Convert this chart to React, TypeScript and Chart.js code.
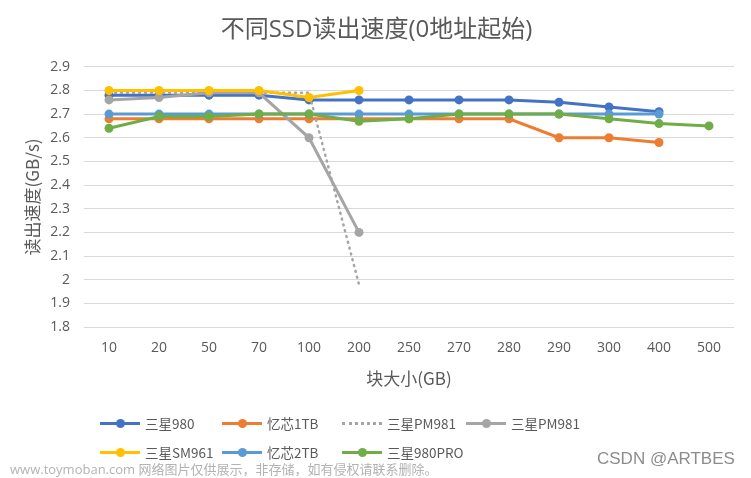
import React, { useEffect, useRef } from "react";
import { Chart, registerables } from "chart.js";

Chart.register(...registerables);

const categories = ["10", "20", "50", "70", "100", "200", "250", "270", "280", "290", "300", "400", "500"];
const seriesNames = ["三星980", "忆芯1TB", "三星PM981", "三星PM981", "三星SM961", "忆芯2TB", "三星980PRO"];
const seriesColors = ["#4472C4", "#ED7D31", "#A5A5A5", "#A5A5A5", "#FFC000", "#5B9BD5", "#70AD47"];
const samsung980 = [2.78, 2.78, 2.78, 2.78, 2.76, 2.76, 2.76, 2.76, 2.76, 2.75, 2.73, 2.71, null];
const yixin1TB = [2.68, 2.68, 2.68, 2.68, 2.68, 2.68, 2.68, 2.68, 2.68, 2.6, 2.6, 2.58, null];
const pm981Dotted = [2.79, 2.79, 2.79, 2.79, 2.79, 1.98, null, null, null, null, null, null, null];
const pm981 = [2.76, 2.77, 2.79, 2.79, 2.6, 2.2, null, null, null, null, null, null, null];
const sm961 = [2.8, 2.8, 2.8, 2.8, 2.77, 2.8, null, null, null, null, null, null, null];
const yixin2TB = [2.7, 2.7, 2.7, 2.7, 2.7, 2.7, 2.7, 2.7, 2.7, 2.7, 2.7, 2.7, null];
const samsung980Pro = [2.64, 2.69, 2.69, 2.7, 2.7, 2.67, 2.68, 2.7, 2.7, 2.7, 2.68, 2.66, 2.65];
const seriesValues = [samsung980, yixin1TB, pm981Dotted, pm981, sm961, yixin2TB, samsung980Pro];
const dottedIndex = 2;
const yMin = 1.8;
const yMax = 2.9;
const yStep = 0.1;

const titleText = "不同SSD读出速度(0地址起始)";
const yTitle = "读出速度(GB/s)";
const xTitle = "块大小(GB)";
const watermark = "www.toymoban.com 网络图片仅供展示，非存储，如有侵权请联系删除。";
const credit = "CSDN @ARTBES";

const FONT = '"Open Sans", "Noto Sans CJK SC", sans-serif';
const CJK_FONT = '"Noto Sans CJK SC", sans-serif';
const TEXT = "#595959";

export default function App() {
  const canvasRef = useRef<HTMLCanvasElement>(null);

  useEffect(() => {
    const ctx = canvasRef.current!;
    const datasets = seriesValues.map((vals, i) => {
      const dotted = i === dottedIndex;
      return {
        label: seriesNames[i],
        data: vals,
        borderColor: seriesColors[i],
        backgroundColor: seriesColors[i],
        borderWidth: dotted ? 2.5 : 3,
        borderDash: dotted ? [1, 5] : [],
        borderCapStyle: dotted ? "round" : "butt",
        pointRadius: dotted ? 0 : 4.5,
        pointHoverRadius: dotted ? 0 : 4.5,
        pointBorderWidth: 0,
        pointBackgroundColor: seriesColors[i],
        tension: 0,
        fill: false,
        order: seriesValues.length - i,
      } as any;
    });
    const chart = new Chart(ctx, {
      type: "line",
      data: { labels: categories, datasets },
      options: {
        animation: false,
        responsive: false,
        maintainAspectRatio: false,
        layout: { padding: { top: 10, left: 19, right: 17, bottom: 86 } },
        plugins: {
          legend: { display: false },
          tooltip: { enabled: false },
          title: {
            display: true,
            text: titleText,
            color: TEXT,
            font: { family: FONT, size: 24, weight: "normal" },
            padding: { top: 6, bottom: 22 },
          },
        },
        scales: {
          x: {
            offset: true,
            grid: { display: false, drawTicks: false },
            border: { display: false },
            afterFit: (s: any) => { s.height = 65; },
            ticks: { color: TEXT, font: { family: FONT, size: 14 }, padding: 13, maxRotation: 0, autoSkip: false },
            title: { display: true, text: xTitle, color: TEXT, font: { family: CJK_FONT, size: 17 }, padding: { top: 7, bottom: 3 } },
          },
          y: {
            min: yMin,
            max: yMax,
            grid: { color: "#D9D9D9", lineWidth: 1, drawTicks: false },
            border: { display: false },
            afterFit: (s: any) => { s.width = 65; },
            ticks: {
              stepSize: yStep,
              color: TEXT,
              font: { family: FONT, size: 14 },
              padding: 14,
              callback: (v: any) => String(Number(Number(v).toFixed(1))),
            },
            title: { display: true, text: yTitle, color: TEXT, font: { family: CJK_FONT, size: 17, lineHeight: 1.0 }, padding: { top: 5, bottom: 0 } },
          },
        },
      },
    });
    return () => chart.destroy();
  }, []);

  const colLeft = [100, 222, 342, 466];
  const rowTop = [423, 452];
  const legendItems = seriesNames.map((name, i) => ({
    name,
    color: seriesColors[i],
    dotted: i === dottedIndex,
    left: colLeft[i % 4],
    top: rowTop[Math.floor(i / 4)],
  }));

  return (
    <div style={{ position: "fixed", left: 0, top: 0, width: 751, height: 478, background: "#fff", overflow: "hidden" }}>
      <canvas ref={canvasRef} width={751} height={478} style={{ position: "absolute", left: 0, top: 0, width: 751, height: 478 }} />
      {legendItems.map((it, i) => (
        <div key={i} style={{ position: "absolute", left: it.left, top: it.top - 10, height: 20, display: "flex", alignItems: "center", fontFamily: CJK_FONT, fontSize: 13.5, color: TEXT, whiteSpace: "nowrap" }}>
          <div style={{ position: "relative", width: 40, height: 20 }}>
            {it.dotted ? (
              <div style={{ position: "absolute", left: 0, top: 9, width: 40, borderTop: `3px dotted ${it.color}` }} />
            ) : (
              <>
                <div style={{ position: "absolute", left: 0, top: 8.5, width: 40, height: 3, background: it.color }} />
                <div style={{ position: "absolute", left: 15.5, top: 5.5, width: 9, height: 9, borderRadius: "50%", background: it.color }} />
              </>
            )}
          </div>
          <span style={{ marginLeft: 5 }}>{it.name}</span>
        </div>
      ))}
      <div style={{ position: "absolute", left: 10, top: 459, fontFamily: FONT, fontSize: 13, color: "#b3b3b3", whiteSpace: "nowrap" }}>{watermark}</div>
      <div style={{ position: "absolute", left: 597, top: 449, fontFamily: '"Liberation Sans", sans-serif', fontSize: 17, color: "#8c8c8c", whiteSpace: "nowrap" }}>{credit}</div>
    </div>
  );
}
